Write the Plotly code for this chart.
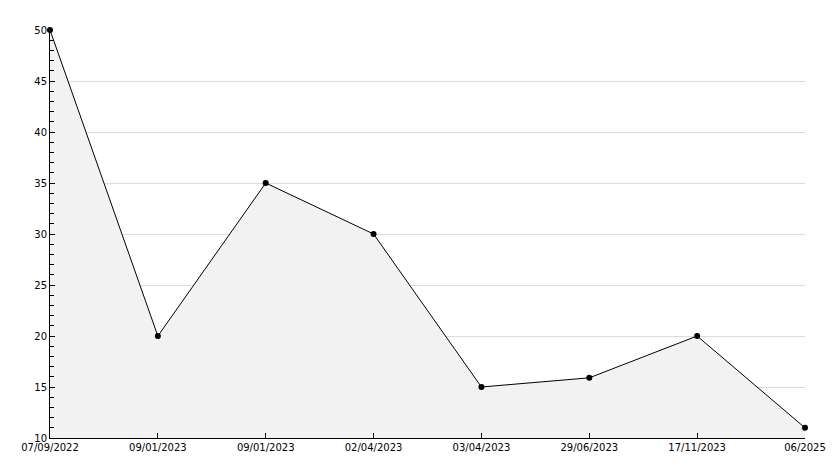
import plotly.graph_objects as go

labels = ["07/09/2022", "09/01/2023", "09/01/2023", "02/04/2023", "03/04/2023", "29/06/2023", "17/11/2023", "06/2025"]
values = [50, 20, 35, 30, 15, 15.9, 20, 11]
y_ticks = [10, 15, 20, 25, 30, 35, 40, 45, 50]

x = list(range(len(labels)))

fig = go.Figure()
fig.add_trace(go.Scatter(
    x=x, y=values, mode="lines+markers",
    line=dict(color="black", width=1),
    marker=dict(color="black", size=6, symbol="circle"),
    fill="tozeroy", fillcolor="#f2f2f2",
    cliponaxis=False,
    hoverinfo="skip", showlegend=False,
))

fig.update_layout(
    width=834, height=468,
    margin=dict(l=50, r=29, t=30, b=30, autoexpand=False),
    paper_bgcolor="white", plot_bgcolor="white",
    font=dict(family="DejaVu Sans", size=10, color="black"),
    xaxis=dict(
        range=[0, len(labels) - 1], tickmode="array", tickvals=x, ticktext=labels,
        showgrid=False, zeroline=False, showline=True, linecolor="black", linewidth=1,
        ticks="inside", ticklen=5, tickcolor="black", automargin=False,
    ),
    yaxis=dict(
        range=[10, 50], tickmode="array", tickvals=y_ticks,
        showgrid=True, gridcolor="#dcdcdc", gridwidth=1, zeroline=False,
        showline=True, linecolor="black", linewidth=1,
        ticks="inside", ticklen=5, tickcolor="black", automargin=False,
        minor=dict(dtick=1, ticks="inside", ticklen=4, tickcolor="black", showgrid=False),
    ),
)

fig.write_html(
    "out.html",
    config={"displayModeBar": False, "staticPlot": True},
    post_script="document.body.style.margin='0';document.body.style.overflow='hidden';",
)
